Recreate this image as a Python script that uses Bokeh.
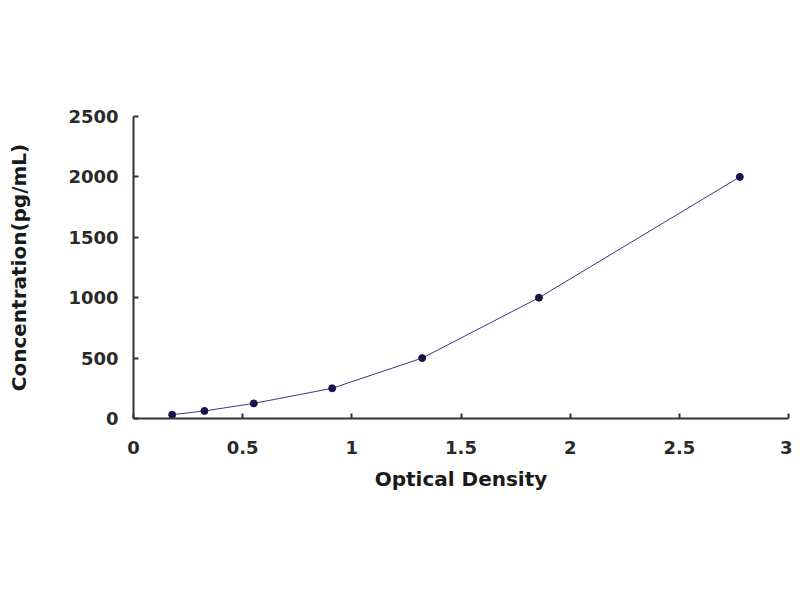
from bokeh.plotting import figure
from bokeh.models import Range1d, FixedTicker
from bokeh.embed import file_html
from bokeh.resources import INLINE

od = [0.177, 0.325, 0.551, 0.910, 1.322, 1.857, 2.777]
conc = [31.25, 62.5, 125, 250, 500, 1000, 2000]
x_ticks = [0, 0.5, 1, 1.5, 2, 2.5, 3]
y_ticks = [0, 500, 1000, 1500, 2000, 2500]

p = figure(width=792, height=592, output_backend="svg", toolbar_location=None,
           x_range=Range1d(0, 3), y_range=Range1d(0, 2500),
           min_border_left=133, min_border_right=4, min_border_top=116, min_border_bottom=174)
p.outline_line_color = None
p.xgrid.grid_line_color = None
p.ygrid.grid_line_color = None

p.line(od, conc, line_color="#3a3a7a", line_width=1)
p.scatter(od, conc, marker="circle", size=7, fill_color="#15154a", line_color="#15154a")

for ax in (p.xaxis[0], p.yaxis[0]):
    ax.axis_line_color = "#333333"
    ax.axis_line_width = 2
    ax.major_tick_line_color = "#333333"
    ax.major_tick_line_width = 2
    ax.major_tick_in = 5
    ax.major_tick_out = 0
    ax.minor_tick_line_color = None
    ax.major_label_text_font = "DejaVu Sans"
    ax.major_label_text_font_style = "bold"
    ax.major_label_text_font_size = "18px"
    ax.major_label_text_color = "#2a2a2a"
    ax.axis_label_text_font = "DejaVu Sans"
    ax.axis_label_text_font_style = "bold"
    ax.axis_label_text_font_size = "20px"
    ax.axis_label_text_color = "#1a1a1a"

p.xaxis.ticker = FixedTicker(ticks=x_ticks)
p.yaxis.ticker = FixedTicker(ticks=y_ticks)
p.xaxis.major_label_overrides = {0: "0", 1: "1", 2: "2", 3: "3"}
p.xaxis.axis_label = "Optical Density"
p.yaxis.axis_label = "Concentration(pg/mL)"
p.xaxis.major_label_standoff = 22
p.yaxis.major_label_standoff = 15
p.xaxis.axis_label_standoff = 10
p.yaxis.axis_label_standoff = 34

open("out.html", "w").write(file_html(p, INLINE))
